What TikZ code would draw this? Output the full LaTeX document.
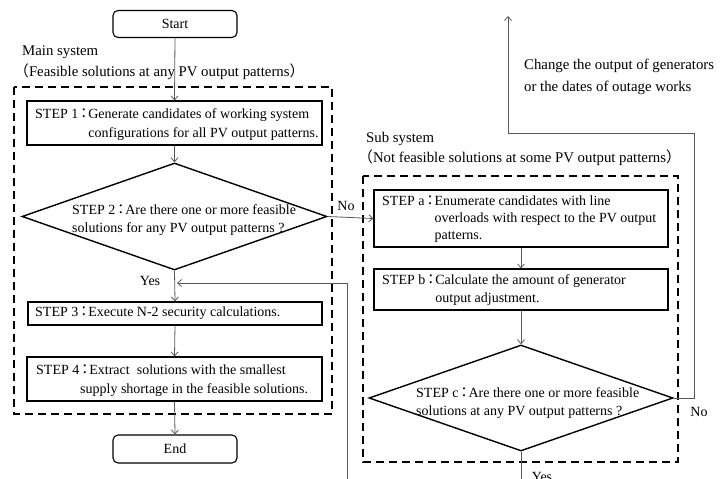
\documentclass[tikz,border=0pt]{standalone}
\usepackage{fontspec}
\setmainfont{Liberation Serif}
\newfontfamily\cjk{Noto Sans CJK JP}
\usetikzlibrary{shapes.geometric,arrows.meta}
\newcommand{\fc}{\kern5.5pt\makebox[0pt][c]{\cjk ：}\kern4.5pt}
\newcommand{\lpar}{{\cjk （}}
\newcommand{\rpar}{{\cjk ）}}
\begin{document}
\begin{tikzpicture}[x=1pt,y=-1pt,
  font=\fontsize{14}{18}\selectfont,
  box/.style={draw=black, line width=1.1pt, rectangle, inner sep=0pt},
  term/.style={draw=black, line width=1.1pt, rectangle, rounded corners=5pt, inner sep=0pt},
  decision/.style={draw=black, line width=1.4pt, diamond, inner sep=0pt},
  group/.style={draw=black, line width=1.4pt, dash pattern=on 8pt off 5pt},
  conn/.style={draw=black!65, line width=0.8pt},
  arr/.style={conn, -{Straight Barb[length=4pt,width=7pt]}},
  txt/.style={inner sep=0pt, anchor=west, align=left},
  big/.style={txt, font=\fontsize{14.8}{22}\selectfont},
  lbl/.style={inner sep=0pt}
]
\useasboundingbox (0,0) rectangle (721,479);

% groups
\draw[group] (14,87) rectangle (332,414);
\draw[group] (363,176) rectangle (678,462);
\node[big] (mainlbl) at (22,52) {Main system};
\node[big] (mainlbl2) at (14,72) {\lpar Feasible solutions at any PV output patterns\rpar};
\node[big] (sublbl) at (366,139) {Sub system};
\node[big] (sublbl2) at (358,158) {\lpar Not feasible solutions at some PV output patterns\rpar};

% main flow
\node[term, minimum width=124pt, minimum height=27pt] (start) at (175,24) {Start};
\node[box, minimum width=295pt, minimum height=44pt] (s1) at (174.5,123) {};
\node[txt] (s1t) at (35,124) {\begin{tabular}{@{}l@{}l@{}}STEP 1\fc&Generate candidates of working system\\[1pt]&configurations for all PV output patterns.\end{tabular}};
\node[decision, minimum width=305pt, minimum height=107pt] (d2) at (174.5,216.5) {};
\node[txt] (d2t) at (72,220) {STEP 2\fc Are there one or more feasible\\solutions for any PV output patterns ?};
\node[box, minimum width=294pt, minimum height=23pt] (s3) at (175,313.5) {};
\node[txt] (s3t) at (35,313.5) {STEP 3\fc Execute N-2 security calculations.};
\node[box, minimum width=295pt, minimum height=44pt] (s4) at (174.5,379) {};
\node[txt] (s4t) at (36,381) {STEP 4\fc Extract\ \ solutions with the smallest\\[1pt]\hspace{44pt}supply shortage in the feasible solutions.};
\node[term, minimum width=124pt, minimum height=28pt] (end) at (175,449) {End};

% sub flow
\node[box, minimum width=294pt, minimum height=57pt] (sa) at (521,218.5) {};
\node[txt] (sat) at (382,218.5) {\begin{tabular}{@{}l@{}l@{}}STEP a\fc&Enumerate candidates with line\\[-1pt]&overloads with respect to the PV output\\[-1pt]&patterns.\end{tabular}};
\node[box, minimum width=294pt, minimum height=41pt] (sb) at (521,289.5) {};
\node[txt] (sbt) at (382,290) {\begin{tabular}{@{}l@{}l@{}}STEP b\fc&Calculate the amount of generator\\&output adjustment.\end{tabular}};
\node[decision, minimum width=304pt, minimum height=106pt] (dc) at (521,398) {};
\node[txt] (dct) at (416,403) {STEP c\fc Are there one or more feasible\\solutions at any PV output patterns ?};

% coordinates
\coordinate (lp1) at (694,398);
\coordinate (lp2) at (694,133);
\coordinate (lp3) at (508,133);
\coordinate (lptop) at (508,16);
\coordinate (fb0) at (347,490);
\coordinate (fb1) at (347,283);
\coordinate (dcend) at (521,490);

% connectors
\draw[arr] (start.south) -- (s1.north);
\draw[arr] (s1.south) -- (d2.north);
\draw[arr] (d2.south) -- (s3.north);
\draw[arr] (s3.south) -- (s4.north);
\draw[arr] (s4.south) -- (end.north);
\draw[arr] (d2.east) -- (sa.west);
\draw[arr] (sa.south) -- (sb.north);
\draw[arr] (sb.south) -- (dc.north);
\draw[arr] (dc.east) -- (lp1) -- (lp2) -- (lp3) -- (lptop);
\draw[arr, shorten >=2.5pt] (fb0) -- (fb1) -- (d2.south |- fb1);
\draw[conn] (dc.south) -- (dcend);

% labels
\node[lbl] (no1) at (346,206) {No};
\node[lbl] (yes1) at (150,281) {Yes};
\node[lbl] (no2) at (699,412) {No};
\node[lbl] (yes2) at (542,477) {Yes};
\node[big] (chg) at (524,77) {Change the output of generators\\or the dates of outage works};
\end{tikzpicture}
\end{document}
